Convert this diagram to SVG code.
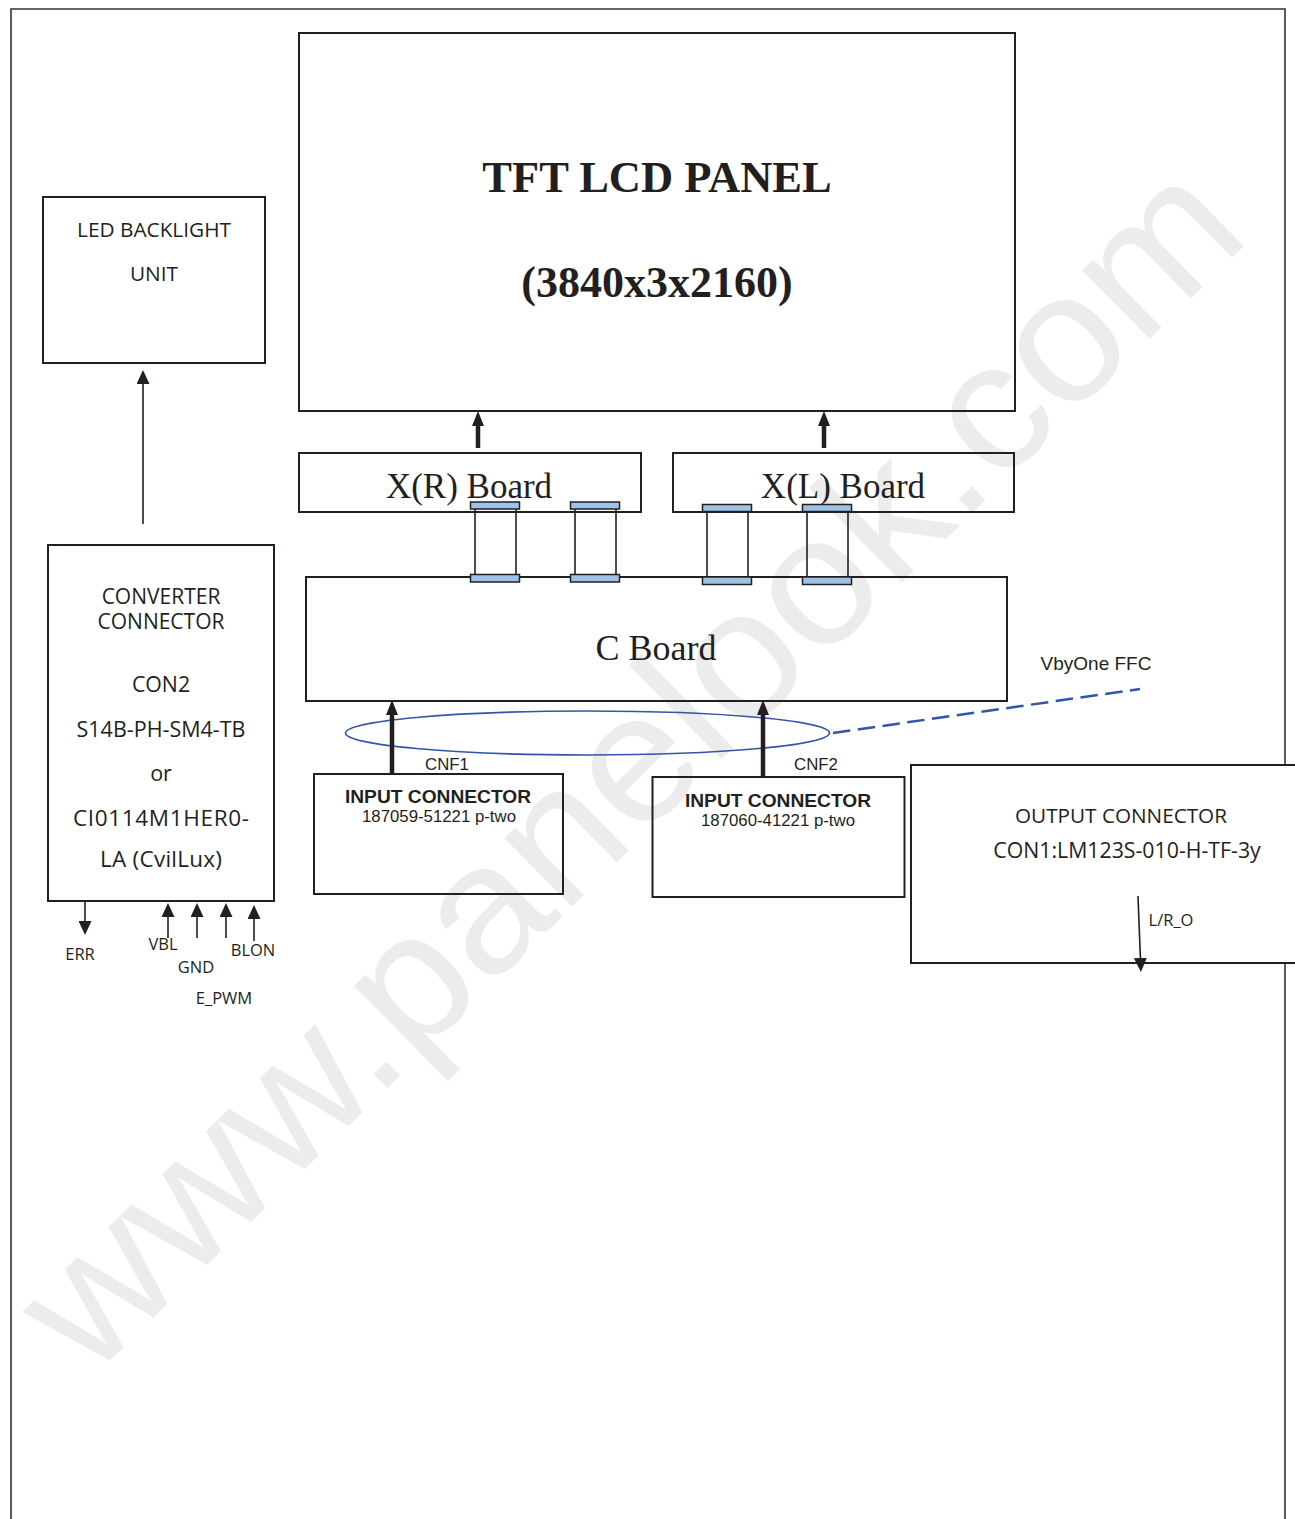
<svg xmlns="http://www.w3.org/2000/svg" width="1295" height="1519" viewBox="0 0 1295 1519">
<style>
.box{fill:none;stroke:#231f20;stroke-width:2}
.thin{fill:none;stroke:#231f20;stroke-width:1.6}
.thick{fill:none;stroke:#231f20;stroke-width:4.5}
.conn{fill:#9dc3e6;stroke:#231f20;stroke-width:1.5}
.os{font-family:"Open Sans","DejaVu Sans",sans-serif;fill:#231f20;text-anchor:middle}
.ar{font-family:"Liberation Sans",Arial,sans-serif;fill:#231f20;text-anchor:middle}
.sf{font-family:"Liberation Serif","Times New Roman",serif;fill:#231f20;text-anchor:middle}
.blue{fill:none;stroke:#3355a8}
</style>
<defs>
<marker id="headThick" markerUnits="userSpaceOnUse" viewBox="0 0 15 12" markerWidth="15" markerHeight="12" refX="4" refY="6" orient="auto">
<path d="M0,0 L15,6 L0,12 z" fill="#231f20"/>
</marker>
<marker id="headThin" markerUnits="userSpaceOnUse" viewBox="0 0 14 13" markerWidth="14" markerHeight="13" refX="10" refY="6.5" orient="auto">
<path d="M0,0 L14,6.5 L0,13 z" fill="#231f20"/>
</marker>
</defs>
<rect width="1295" height="1519" fill="#fff"/>
<text x="90" y="1380" transform="rotate(-44.5 90 1380)" font-family="'Liberation Sans',Arial,sans-serif" font-size="182" fill="#ececec" textLength="1630" lengthAdjust="spacingAndGlyphs">www.panelook.com</text>
<path id="frame" d="M11,1519 V9 H1285 V1519" fill="none" stroke="#333" stroke-width="1.6"/>
<g id="tft-panel">
<rect class="box" x="299" y="33" width="716" height="378" stroke-width="2.5"/>
<text class="sf" x="657" y="192" font-size="44.5" font-weight="bold">TFT LCD PANEL</text>
<text class="sf" x="657" y="297" font-size="44" font-weight="bold">(3840x3x2160)</text>
</g>
<g id="led-backlight">
<rect class="box" x="43" y="197" width="222" height="166"/>
<text class="os" x="154" y="237" font-size="20.8">LED BACKLIGHT</text>
<text class="os" x="154" y="281" font-size="20.8">UNIT</text>
</g>
<g id="xr-board">
<rect class="box" x="299" y="453" width="342" height="59" stroke-width="1.6"/>
<text class="sf" x="469" y="498" font-size="35">X(R) Board</text>
</g>
<g id="xl-board">
<rect class="box" x="673" y="453" width="341" height="59" stroke-width="1.6"/>
<text class="sf" x="843" y="498" font-size="35">X(L) Board</text>
</g>
<g id="c-board">
<rect class="box" x="306" y="577" width="701" height="124" stroke-width="1.6"/>
<text class="sf" x="656" y="660" font-size="36">C Board</text>
</g>
<g id="ffc-cables">
<line class="thin" x1="475" y1="509" x2="475" y2="575"/>
<line class="thin" x1="516" y1="509" x2="516" y2="575"/>
<line class="thin" x1="575" y1="509" x2="575" y2="575"/>
<line class="thin" x1="616" y1="509" x2="616" y2="575"/>
<line class="thin" x1="707" y1="511" x2="707" y2="577"/>
<line class="thin" x1="748" y1="511" x2="748" y2="577"/>
<line class="thin" x1="807" y1="511" x2="807" y2="577"/>
<line class="thin" x1="848" y1="511" x2="848" y2="577"/>
<rect class="conn" x="470.5" y="502" width="49" height="7"/>
<rect class="conn" x="570.5" y="502" width="49" height="7"/>
<rect class="conn" x="702.5" y="504.5" width="49" height="7"/>
<rect class="conn" x="802.5" y="504.5" width="49" height="7"/>
<rect class="conn" x="470.5" y="574.5" width="49" height="7.5"/>
<rect class="conn" x="570.5" y="574.5" width="49" height="7.5"/>
<rect class="conn" x="702.5" y="577" width="49" height="7.5"/>
<rect class="conn" x="802.5" y="577" width="49" height="7.5"/>
</g>
<g id="converter-connector">
<rect class="box" x="48" y="545" width="226" height="356"/>
<text class="os" x="161" y="604" font-size="21">CONVERTER</text>
<text class="os" x="161" y="629" font-size="21">CONNECTOR</text>
<text class="os" x="161" y="692" font-size="21.3">CON2</text>
<text class="os" x="161" y="737" font-size="21.5">S14B-PH-SM4-TB</text>
<text class="os" x="161" y="781" font-size="21.5">or</text>
<text class="os" x="161" y="826" font-size="22.5" textLength="176" lengthAdjust="spacing">CI0114M1HER0-</text>
<text class="os" x="161" y="867" font-size="22.5" textLength="122" lengthAdjust="spacing">LA (CvilLux)</text>
</g>
<g id="input-connector-1">
<rect class="box" x="314" y="774" width="249" height="120"/>
<text class="ar" x="438" y="803" font-size="19.2" font-weight="bold">INPUT CONNECTOR</text>
<text class="ar" x="439" y="822" font-size="16.8">187059-51221 p-two</text>
</g>
<g id="input-connector-2">
<rect class="box" x="652.5" y="777" width="252" height="120"/>
<text class="ar" x="778" y="807" font-size="19.2" font-weight="bold">INPUT CONNECTOR</text>
<text class="ar" x="778" y="826" font-size="16.8">187060-41221 p-two</text>
</g>
<g id="output-connector">
<rect class="box" x="911" y="765" width="400" height="198" style="fill:#fff"/>
<text class="os" x="1121" y="823" font-size="20.7">OUTPUT CONNECTOR</text>
<text class="os" x="1127" y="858" font-size="21.3">CON1:LM123S-010-H-TF-3y</text>
</g>
<g id="connectors">
<ellipse class="blue" cx="587.5" cy="733" rx="242" ry="22" stroke-width="1.6"/>
<line class="blue" x1="833" y1="733" x2="1140" y2="689" stroke-width="2.5" stroke-dasharray="17.5 7.5"/>
<line class="thick" x1="478" y1="448" x2="478" y2="422" marker-end="url(#headThick)"/>
<line class="thick" x1="824" y1="448" x2="824" y2="422" marker-end="url(#headThick)"/>
<line class="thick" x1="392" y1="774" x2="392" y2="711" marker-end="url(#headThick)"/>
<line class="thick" x1="763" y1="777" x2="763" y2="711" marker-end="url(#headThick)"/>
<line class="thin" x1="143" y1="524" x2="143" y2="374" marker-end="url(#headThin)"/>
<line class="thin" x1="85" y1="901" x2="85" y2="931" marker-end="url(#headThin)"/>
<line class="thin" x1="168" y1="938" x2="168" y2="907" marker-end="url(#headThin)"/>
<line class="thin" x1="197" y1="938" x2="197" y2="907" marker-end="url(#headThin)"/>
<line class="thin" x1="226" y1="938" x2="226" y2="907" marker-end="url(#headThin)"/>
<line class="thin" x1="254" y1="941" x2="254" y2="909" marker-end="url(#headThin)"/>
<line class="thin" x1="1138" y1="896" x2="1140.8" y2="968" marker-end="url(#headThin)"/>
</g>
<g id="labels">
<text class="ar" x="447" y="770" font-size="16.8">CNF1</text>
<text class="ar" x="816" y="770" font-size="16.8">CNF2</text>
<text class="ar" x="1096" y="670" font-size="19">VbyOne FFC</text>
<text class="os" x="1171" y="926" font-size="16.5">L/R_O</text>
<text class="os" x="80" y="960" font-size="16.5">ERR</text>
<text class="os" x="163" y="950" font-size="16.5">VBL</text>
<text class="os" x="196" y="973" font-size="16.5">GND</text>
<text class="os" x="253" y="956" font-size="16.5">BLON</text>
<text class="os" x="224" y="1004" font-size="16.5">E_PWM</text>
</g>
</svg>
